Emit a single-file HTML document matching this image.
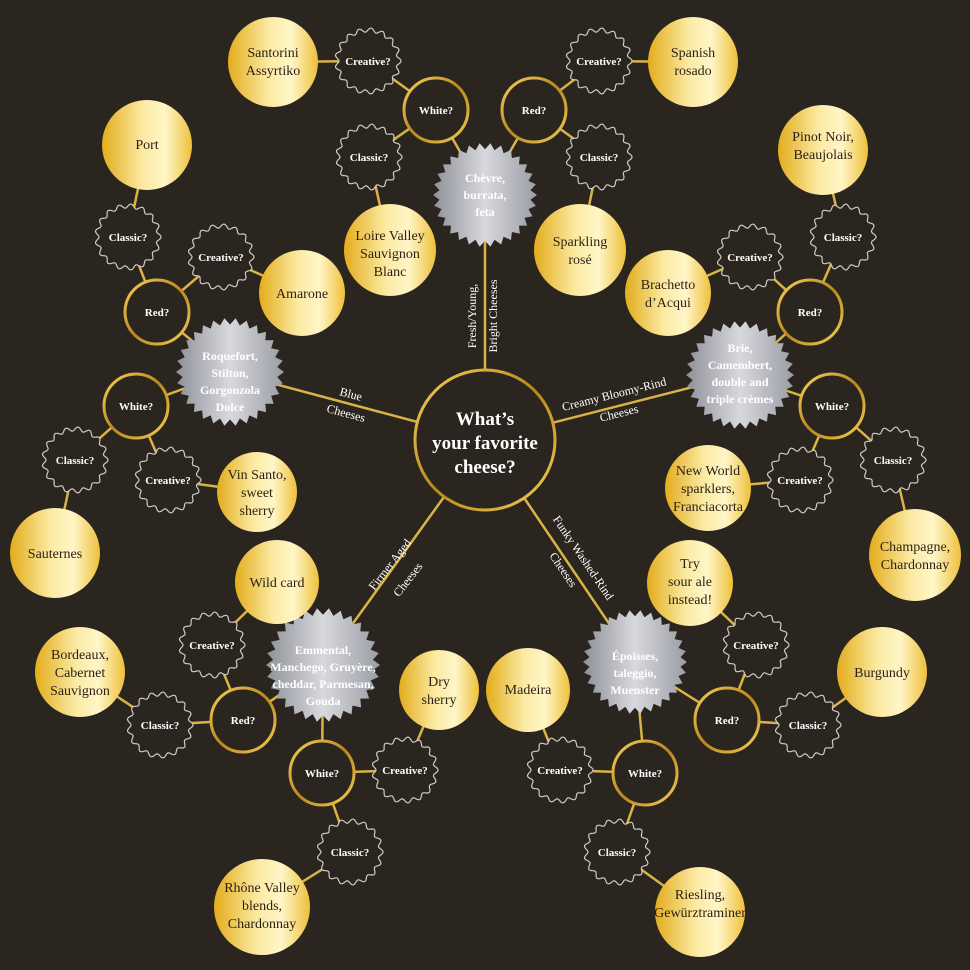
<!DOCTYPE html>
<html><head><meta charset="utf-8">
<style>
html,body{margin:0;padding:0;background:#2b251f;}
svg{display:block;}
.q{font-family:"Liberation Serif",serif;font-weight:bold;font-size:11px;fill:#fff;text-anchor:middle;}
.w{font-family:"Liberation Serif",serif;font-size:14px;fill:#2a1f12;text-anchor:middle;}
.c{font-family:"Liberation Serif",serif;font-weight:bold;font-size:12px;fill:#fff;text-anchor:middle;}
.l{font-family:"Liberation Serif",serif;font-size:12px;fill:#fff;text-anchor:middle;}
.m{font-family:"Liberation Serif",serif;font-weight:bold;font-size:19px;fill:#fff;text-anchor:middle;}
</style></head><body>
<svg id="s" width="970" height="970" viewBox="0 0 970 970" xmlns="http://www.w3.org/2000/svg">
<defs>
<linearGradient id="g" x1="0" y1="0" x2="1" y2="0">
<stop offset="0" stop-color="#e3ac1c"/><stop offset="0.45" stop-color="#fbeaa2"/><stop offset="0.7" stop-color="#fff6c8"/><stop offset="1" stop-color="#eec03a"/></linearGradient>
<linearGradient id="sv" x1="0" y1="0" x2="1" y2="0">
<stop offset="0" stop-color="#8e9098"/><stop offset="0.5" stop-color="#d8d9de"/><stop offset="1" stop-color="#9a9ca4"/></linearGradient>
<linearGradient id="rg" x1="0" y1="0" x2="1" y2="1">
<stop offset="0" stop-color="#f6d25a"/><stop offset="0.5" stop-color="#b8871c"/><stop offset="1" stop-color="#f3cf55"/></linearGradient>
</defs>
<rect width="970" height="970" fill="#2b251f"/>
<g id="lines" stroke="#d9b445" stroke-width="2.5"></g>
<g id="shapes"></g>
<g id="txt">
<text class="m" x="485" y="425">What’s</text>
<text class="m" x="485" y="449">your favorite</text>
<text class="m" x="485" y="473">cheese?</text>
<text class="l" transform="translate(476,316) rotate(-90)">Fresh/Young,</text>
<text class="l" transform="translate(497,316) rotate(-90)">Bright Cheeses</text>
<text class="l" transform="translate(350,398) rotate(15)">Blue</text>
<text class="l" transform="translate(345,417) rotate(15)">Cheeses</text>
<text class="l" transform="translate(615,398) rotate(-14)">Creamy Bloomy-Rind</text>
<text class="l" transform="translate(620,417) rotate(-14)">Cheeses</text>
<text class="l" transform="translate(580,560) rotate(56)">Funky Washed-Rind</text>
<text class="l" transform="translate(560,572) rotate(56)">Cheeses</text>
<text class="l" transform="translate(393,567) rotate(-52)">Firmer Aged</text>
<text class="l" transform="translate(411,582) rotate(-52)">Cheeses</text>

<text class="c" x="485" y="182">Chèvre,</text><text class="c" x="485" y="199">burrata,</text><text class="c" x="485" y="216">feta</text>
<text class="c" x="230" y="360">Roquefort,</text><text class="c" x="230" y="377">Stilton,</text><text class="c" x="230" y="394">Gorgonzola</text><text class="c" x="230" y="411">Dolce</text>
<text class="c" x="740" y="352">Brie,</text><text class="c" x="740" y="369">Camembert,</text><text class="c" x="740" y="386">double and</text><text class="c" x="740" y="403">triple crèmes</text>
<text class="c" x="635" y="660">Époisses,</text><text class="c" x="635" y="677">taleggio,</text><text class="c" x="635" y="694">Muenster</text>
<text class="c" x="323" y="654">Emmental,</text><text class="c" x="323" y="671">Manchego, Gruyère,</text><text class="c" x="323" y="688">cheddar, Parmesan,</text><text class="c" x="323" y="705">Gouda</text>

<text class="q" x="436" y="114">White?</text><text class="q" x="534" y="114">Red?</text>
<text class="q" x="368" y="65">Creative?</text><text class="q" x="369" y="161">Classic?</text>
<text class="q" x="599" y="65">Creative?</text><text class="q" x="599" y="161">Classic?</text>
<text class="q" x="157" y="316">Red?</text><text class="q" x="136" y="410">White?</text>
<text class="q" x="128" y="241">Classic?</text><text class="q" x="221" y="261">Creative?</text>
<text class="q" x="75" y="464">Classic?</text><text class="q" x="168" y="484">Creative?</text>
<text class="q" x="810" y="316">Red?</text><text class="q" x="832" y="410">White?</text>
<text class="q" x="843" y="241">Classic?</text><text class="q" x="750" y="261">Creative?</text>
<text class="q" x="893" y="464">Classic?</text><text class="q" x="800" y="484">Creative?</text>
<text class="q" x="727" y="724">Red?</text><text class="q" x="645" y="777">White?</text>
<text class="q" x="756" y="649">Creative?</text><text class="q" x="808" y="729">Classic?</text>
<text class="q" x="560" y="774">Creative?</text><text class="q" x="617" y="856">Classic?</text>
<text class="q" x="243" y="724">Red?</text><text class="q" x="322" y="777">White?</text>
<text class="q" x="212" y="649">Creative?</text><text class="q" x="160" y="729">Classic?</text>
<text class="q" x="405" y="774">Creative?</text><text class="q" x="350" y="856">Classic?</text>

<text class="w" x="273" y="57">Santorini</text><text class="w" x="273" y="75">Assyrtiko</text>
<text class="w" x="693" y="57">Spanish</text><text class="w" x="693" y="75">rosado</text>
<text class="w" x="390" y="240">Loire Valley</text><text class="w" x="390" y="258">Sauvignon</text><text class="w" x="390" y="276">Blanc</text>
<text class="w" x="580" y="246">Sparkling</text><text class="w" x="580" y="264">rosé</text>
<text class="w" x="147" y="149">Port</text>
<text class="w" x="302" y="298">Amarone</text>
<text class="w" x="257" y="479">Vin Santo,</text><text class="w" x="257" y="497">sweet</text><text class="w" x="257" y="515">sherry</text>
<text class="w" x="55" y="558">Sauternes</text>
<text class="w" x="823" y="141">Pinot Noir,</text><text class="w" x="823" y="159">Beaujolais</text>
<text class="w" x="668" y="289">Brachetto</text><text class="w" x="668" y="307">d’Acqui</text>
<text class="w" x="708" y="475">New World</text><text class="w" x="708" y="493">sparklers,</text><text class="w" x="708" y="511">Franciacorta</text>
<text class="w" x="915" y="551">Champagne,</text><text class="w" x="915" y="569">Chardonnay</text>
<text class="w" x="690" y="568">Try</text><text class="w" x="690" y="586">sour ale</text><text class="w" x="690" y="604">instead!</text>
<text class="w" x="882" y="677">Burgundy</text>
<text class="w" x="528" y="694">Madeira</text>
<text class="w" x="700" y="899">Riesling,</text><text class="w" x="700" y="917">Gewürztraminer</text>
<text class="w" x="277" y="587">Wild card</text>
<text class="w" x="80" y="659">Bordeaux,</text><text class="w" x="80" y="677">Cabernet</text><text class="w" x="80" y="695">Sauvignon</text>
<text class="w" x="439" y="686">Dry</text><text class="w" x="439" y="704">sherry</text>
<text class="w" x="262" y="892">Rhône Valley</text><text class="w" x="262" y="910">blends,</text><text class="w" x="262" y="928">Chardonnay</text>
</g>
</svg>
<script>
var NS="http://www.w3.org/2000/svg";
var L=document.getElementById("lines"),S=document.getElementById("shapes");
function el(p,t,a){var e=document.createElementNS(NS,t);for(var k in a)e.setAttribute(k,a[k]);p.appendChild(e);return e;}
var N={
C:[485,440,70,'m'],
ch1:[485,195,52,'s'],ch2:[230,372,54,'s'],ch3:[740,375,54,'s'],ch4:[635,662,52,'s'],ch5:[323,665,57,'s'],
W1:[436,110,32,'r'],R1:[534,110,32,'r'],a1:[368,61,33,'d'],b1:[369,157,33,'d'],a2:[599,61,33,'d'],b2:[599,157,33,'d'],
w1:[273,62,45,'g'],w2:[693,62,45,'g'],w3:[390,250,46,'g'],w4:[580,250,46,'g'],
R2:[157,312,32,'r'],W2:[136,406,32,'r'],b3:[128,237,33,'d'],a3:[221,257,33,'d'],b4:[75,460,33,'d'],a4:[168,480,33,'d'],
w5:[147,145,45,'g'],w6:[302,293,43,'g'],w7:[257,492,40,'g'],w8:[55,553,45,'g'],
R3:[810,312,32,'r'],W3:[832,406,32,'r'],b5:[843,237,33,'d'],a5:[750,257,33,'d'],b6:[893,460,33,'d'],a6:[800,480,33,'d'],
w9:[823,150,45,'g'],w10:[668,293,43,'g'],w11:[708,488,43,'g'],w12:[915,555,46,'g'],
R4:[727,720,32,'r'],W4:[645,773,32,'r'],a7:[756,645,33,'d'],b7:[808,725,33,'d'],a8:[560,770,33,'d'],b8:[617,852,33,'d'],
w13:[690,583,43,'g'],w14:[882,672,45,'g'],w15:[528,690,42,'g'],w16:[700,912,45,'g'],
R5:[243,720,32,'r'],W5:[322,773,32,'r'],a9:[212,645,33,'d'],b9:[160,725,33,'d'],a10:[405,770,33,'d'],b10:[350,852,33,'d'],
w17:[277,582,42,'g'],w18:[80,672,45,'g'],w19:[439,690,40,'g'],w20:[262,907,48,'g']
};
var E=[['C','ch1'],['C','ch2'],['C','ch3'],['C','ch4'],['C','ch5'],
['ch1','W1'],['ch1','R1'],['W1','a1'],['W1','b1'],['R1','a2'],['R1','b2'],['a1','w1'],['a2','w2'],['b1','w3'],['b2','w4'],
['ch2','R2'],['ch2','W2'],['R2','b3'],['R2','a3'],['W2','b4'],['W2','a4'],['b3','w5'],['a3','w6'],['a4','w7'],['b4','w8'],
['ch3','R3'],['ch3','W3'],['R3','b5'],['R3','a5'],['W3','b6'],['W3','a6'],['b5','w9'],['a5','w10'],['a6','w11'],['b6','w12'],
['ch4','R4'],['ch4','W4'],['R4','a7'],['R4','b7'],['W4','a8'],['W4','b8'],['a7','w13'],['b7','w14'],['a8','w15'],['b8','w16'],
['ch5','R5'],['ch5','W5'],['R5','a9'],['R5','b9'],['W5','a10'],['W5','b10'],['a9','w17'],['b9','w18'],['a10','w19'],['b10','w20']];
E.forEach(function(e){var a=N[e[0]],b=N[e[1]];el(L,'line',{x1:a[0],y1:a[1],x2:b[0],y2:b[1]});});
for(var k in N){var n=N[k],x=n[0],y=n[1],r=n[2],t=n[3];
 if(t=='m'||t=='r'){el(S,'circle',{cx:x,cy:y,r:r,fill:'#2b251f',stroke:'url(#rg)','stroke-width':3});}
 else if(t=='g'){el(S,'circle',{cx:x,cy:y,r:r,fill:'url(#g)'});}
 else if(t=='s'){var p=[],m=30;for(var i=0;i<2*m;i++){var rr=i%2?r*0.88:r,a=Math.PI*i/m;p.push((x+rr*Math.cos(a)).toFixed(1)+','+(y+rr*Math.sin(a)).toFixed(1));}
  el(S,'polygon',{points:p.join(' '),fill:'url(#sv)'});}
 else if(t=='d'){var d='',m=17,K=720;for(var i=0;i<=K;i++){var a=2*Math.PI*i/K,rr=r-2+2*Math.cos(a*m);d+=(i?'L':'M')+(x+rr*Math.cos(a)).toFixed(1)+','+(y+rr*Math.sin(a)).toFixed(1);}
  el(S,'path',{d:d+'Z',fill:'#2b251f',stroke:'#cfcac2','stroke-width':1.2});}
}
</script>
</body></html>
